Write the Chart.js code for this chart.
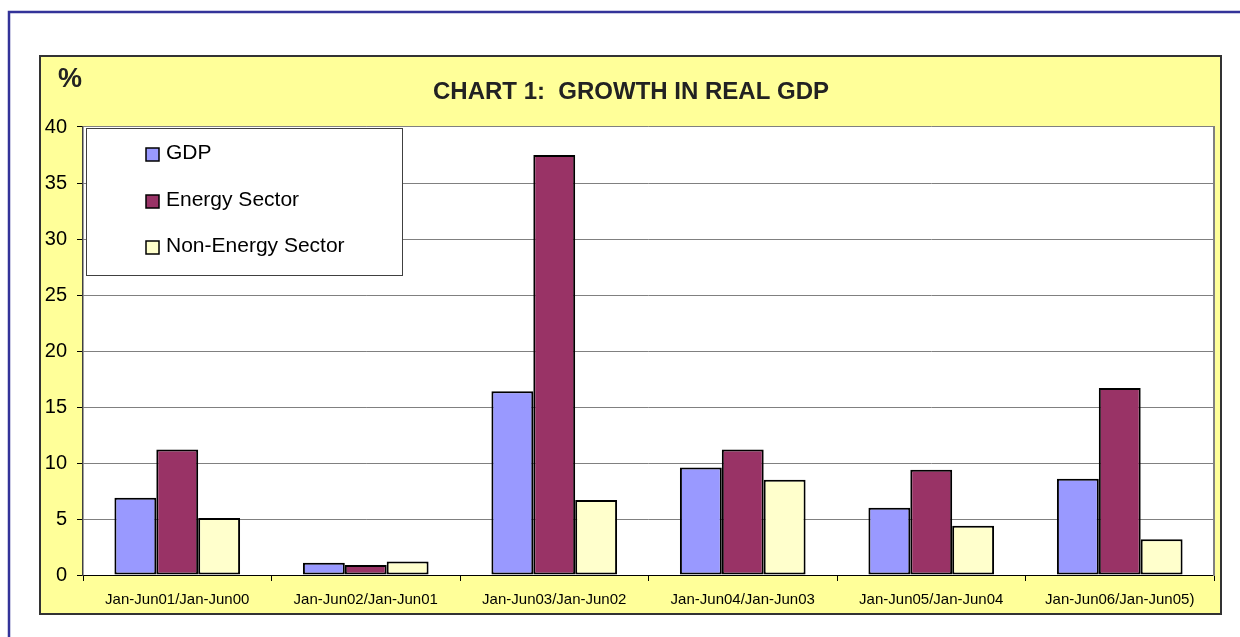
<!DOCTYPE html>
<html>
<head>
<meta charset="utf-8">
<script src="https://cdn.jsdelivr.net/npm/chart.js@4.4.1/dist/chart.umd.min.js"></script>
<style>
  html, body { margin: 0; padding: 0; background: #ffffff; }
  canvas { display: block; }
</style>
</head>
<body>
<canvas id="c" width="1240" height="637"></canvas>
<script>
const categories = ['Jan-Jun01/Jan-Jun00', 'Jan-Jun02/Jan-Jun01', 'Jan-Jun03/Jan-Jun02', 'Jan-Jun04/Jan-Jun03', 'Jan-Jun05/Jan-Jun04', 'Jan-Jun06/Jan-Jun05)'];
const gdp = [6.9, 1.1, 16.4, 9.6, 6.0, 8.6];
const energy = [11.2, 0.9, 37.5, 11.2, 9.4, 16.7];
const nonEnergy = [5.1, 1.2, 6.7, 8.5, 4.4, 3.2];
const seriesNames = ['GDP', 'Energy Sector', 'Non-Energy Sector'];
const titleText = 'CHART 1:  GROWTH IN REAL GDP';
const unitLabel = '%';
const yMin = 0, yMax = 40, yStep = 5;

const FONT = "'Liberation Sans', Arial, sans-serif";

const framePlugin = {
  id: 'frame',
  beforeDraw(chart) {
    const ctx = chart.ctx;
    ctx.save();
    ctx.fillStyle = '#ffffff';
    ctx.fillRect(0, 0, chart.width, chart.height);
    // outer blue frame
    ctx.strokeStyle = '#333399';
    ctx.lineWidth = 2.5;
    ctx.beginPath();
    ctx.moveTo(9, chart.height + 2);
    ctx.lineTo(9, 12);
    ctx.lineTo(chart.width + 2, 12);
    ctx.stroke();
    // yellow chart area
    ctx.fillStyle = '#FFFF99';
    ctx.fillRect(39, 55, 1183, 559);
    ctx.strokeStyle = '#333333';
    ctx.lineWidth = 2;
    ctx.strokeRect(40, 56, 1181, 558);
    // plot area white
    const a = chart.chartArea;
    ctx.fillStyle = '#ffffff';
    ctx.fillRect(a.left, a.top, a.right - a.left, a.bottom - a.top);
    ctx.restore();
  },
  afterDraw(chart) {
    const ctx = chart.ctx;
    ctx.save();
    // unit label
    ctx.fillStyle = '#222222';
    ctx.font = 'bold 27px ' + FONT;
    ctx.textAlign = 'center';
    ctx.textBaseline = 'middle';
    ctx.fillText(unitLabel, 70, 80);
    ctx.restore();
  }
};

const boxLegendPlugin = {
  id: 'boxLegend',
  afterDatasetsDraw(chart) {
    const ctx = chart.ctx;
    ctx.save();
    // legend box
    ctx.fillStyle = '#ffffff';
    ctx.fillRect(86, 128, 317, 148);
    ctx.strokeStyle = '#404040';
    ctx.lineWidth = 1;
    ctx.strokeRect(86.5, 128.5, 316, 147);
    ctx.font = '21px ' + FONT;
    ctx.textAlign = 'left';
    ctx.textBaseline = 'middle';
    const ys = [153, 200, 246];
    chart.data.datasets.forEach((ds, i) => {
      const y = ys[i];
      ctx.fillStyle = ds.backgroundColor;
      ctx.fillRect(146, y - 5, 13, 13);
      ctx.strokeStyle = '#000000';
      ctx.lineWidth = 1.5;
      ctx.strokeRect(146, y - 5, 13, 13);
      ctx.fillStyle = '#000000';
      ctx.fillText(ds.label, 166, y);
    });
    ctx.restore();
  }
};

new Chart(document.getElementById('c'), {
  type: 'bar',
  data: {
    labels: categories,
    datasets: [
      { label: seriesNames[0], data: gdp, backgroundColor: '#9999FF' },
      { label: seriesNames[1], data: energy, backgroundColor: '#993366' },
      { label: seriesNames[2], data: nonEnergy, backgroundColor: '#FFFFCC' }
    ].map(d => Object.assign(d, {
      borderColor: '#000000',
      borderWidth: 2,
      borderSkipped: false,
      categoryPercentage: 2 / 3,
      barPercentage: 1
    }))
  },
  options: {
    responsive: false,
    animation: false,
    devicePixelRatio: 1,
    layout: { padding: { left: 39, right: 17, top: 0, bottom: 0 } },
    plugins: {
      legend: { display: false },
      tooltip: { enabled: false },
      title: {
        display: true,
        text: titleText,
        color: '#222222',
        font: { family: FONT, size: 24, weight: 'bold', lineHeight: 1.2 },
        padding: { top: 77.6, bottom: 20.6 }
      }
    },
    scales: {
      x: {
        offset: true,
        grid: {
          display: true,
          offset: true,
          drawOnChartArea: false,
          drawTicks: true,
          tickLength: 6,
          tickColor: '#000000',
          color: '#000000'
        },
        border: { display: true, color: '#000000', width: 1 },
        ticks: {
          color: '#000000',
          font: { family: FONT, size: 15 },
          padding: 10,
          maxRotation: 0,
          autoSkip: false
        },
        afterFit(scale) { scale.height = 62; }
      },
      y: {
        min: yMin,
        max: yMax,
        grid: {
          color: '#808080',
          lineWidth: 1,
          drawTicks: true,
          tickLength: 6,
          tickColor: '#000000'
        },
        border: { display: true, color: '#404040', width: 1.5 },
        ticks: {
          stepSize: yStep,
          color: '#000000',
          font: { family: FONT, size: 20 },
          padding: 10
        },
        afterFit(scale) { scale.width = 44; }
      },
      yRight: {
        position: 'right',
        min: yMin,
        max: yMax,
        grid: { display: false, drawOnChartArea: false, drawTicks: false },
        border: { display: true, color: '#808080', width: 2 },
        ticks: { display: false },
        afterFit(scale) { scale.width = 9; }
      }
    }
  },
  plugins: [framePlugin, boxLegendPlugin]
});
</script>
</body>
</html>
